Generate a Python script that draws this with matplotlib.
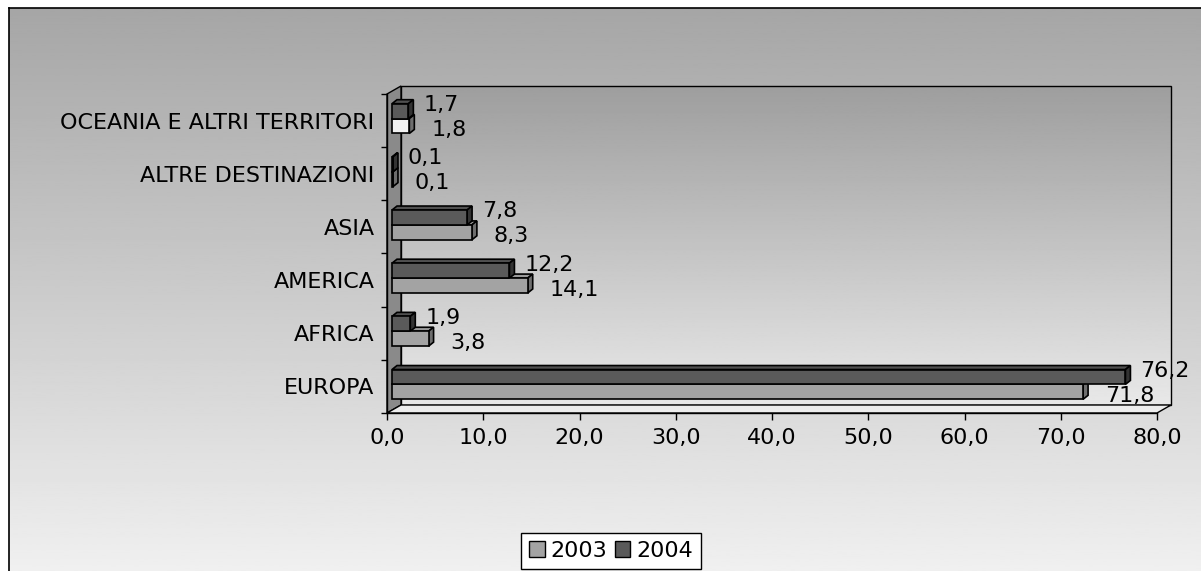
import numpy as np
import matplotlib
matplotlib.use('Agg')
import matplotlib.pyplot as plt
from matplotlib.patches import Polygon, Rectangle, Patch
from matplotlib.ticker import FuncFormatter, FixedLocator

categories = ['EUROPA', 'AFRICA', 'AMERICA', 'ASIA', 'ALTRE DESTINAZIONI',
              'OCEANIA E ALTRI TERRITORI']
val_2003 = [71.8, 3.8, 14.1, 8.3, 0.1, 1.8]
val_2004 = [76.2, 1.9, 12.2, 7.8, 0.1, 1.7]
series_names = ['2003', '2004']

W, H = 1201, 571
plt.rcParams['font.family'] = ['DejaVu Sans']
FS = 16

fig = plt.figure(figsize=(W / 100, H / 100), dpi=100, facecolor='white')

# background with gradient and border (left/top visible)
bg = fig.add_axes([9 / W, 0, (W - 9) / W, (H - 8) / H], zorder=0)
grad = np.linspace(0.65, 0.94, 256).reshape(-1, 1)
bg.imshow(grad, cmap='gray', vmin=0, vmax=1, aspect='auto',
          extent=[0, 1, 0, 1], origin='upper')
bg.set_xticks([])
bg.set_yticks([])
for s in ['right', 'bottom']:
    bg.spines[s].set_visible(False)
for s in ['left', 'top']:
    bg.spines[s].set_linewidth(1.2)

# main axes (front plane)
x0, x1 = 387, 1157
y_top, y_bot = 94, 413
ax = fig.add_axes([x0 / W, 1 - y_bot / H, (x1 - x0) / W, (y_bot - y_top) / H],
                  zorder=1)
ax.patch.set_alpha(0)
XMAX = 80
ax.set_xlim(0, XMAX)
ax.set_ylim(-0.5, len(categories) - 0.5)

xpp = XMAX / (x1 - x0)
ypp = len(categories) / (y_bot - y_top)

# 3D depth of walls
ddx, ddy = 14 * xpp, 8 * ypp
ylo, yhi = -0.5, len(categories) - 0.5

wall_grad = np.linspace(0.62, 0.91, 256).reshape(-1, 1)
ax.imshow(wall_grad, cmap='gray', vmin=0, vmax=1, aspect='auto',
          extent=[ddx, XMAX + ddx, ylo + ddy, yhi + ddy], origin='upper',
          clip_on=False, zorder=0)
ax.add_patch(Rectangle((ddx, ylo + ddy), XMAX, yhi - ylo, fill=False,
                       edgecolor='black', lw=1, clip_on=False, zorder=1))
ax.add_patch(Polygon([(0, ylo), (0, yhi), (ddx, yhi + ddy), (ddx, ylo + ddy)],
                     closed=True, facecolor='#8a8a8a', edgecolor='black',
                     lw=1, clip_on=False, zorder=1))
ax.add_patch(Polygon([(0, ylo), (XMAX, ylo), (XMAX + ddx, ylo + ddy),
                      (ddx, ylo + ddy)],
                     closed=True, facecolor='#ededed', edgecolor='black',
                     lw=1, clip_on=False, zorder=1))
ax.set_xlim(0, XMAX)
ax.set_ylim(ylo, yhi)

# bars
sx, sy = 5 * xpp, 2 * ypp      # bar plane shift
bdx, bdy = 5 * xpp, 4 * ypp    # bar depth
bh = 0.28

front_cols = {'2003': '#a3a3a3', '2004': '#5a5a5a'}
top_cols = {'2003': '#9a9a9a', '2004': '#505050'}
side_cols = {'2003': '#6e6e6e', '2004': '#333333'}
# single data-point override in the original (Oceania 2003 drawn light)
point_override = {('2003', 5): '#f2f2f2'}

ypos = np.arange(len(categories))
series = [('2003', val_2003, -bh / 2), ('2004', val_2004, bh / 2)]
for name, vals, off in series:
    fcs = [point_override.get((name, i), front_cols[name]) for i in range(len(vals))]
    yb = ypos + off + sy - bh / 2
    for i, v in enumerate(vals):
        xl, xr = sx, sx + v
        yt = yb[i] + bh
        ax.add_patch(Polygon([(xl, yt), (xr, yt), (xr + bdx, yt + bdy),
                              (xl + bdx, yt + bdy)], closed=True,
                             facecolor=top_cols[name] if (name, i) not in point_override else '#dcdcdc',
                             edgecolor='black', lw=1.2, zorder=3, clip_on=False))
        ax.add_patch(Polygon([(xr, yb[i]), (xr, yt), (xr + bdx, yt + bdy),
                              (xr + bdx, yb[i] + bdy)], closed=True,
                             facecolor=side_cols[name], edgecolor='black',
                             lw=1.2, zorder=3, clip_on=False))
    ax.barh(ypos + off + sy, vals, height=bh, left=sx, color=fcs,
            edgecolor='black', lw=1.2, zorder=4, clip_on=False)

# data labels
def fmt(v):
    return f'{v:.1f}'.replace('.', ',')

for name, vals, off in series:
    dxp, dyp = (22, -4) if name == '2003' else (15, 6)
    for i, v in enumerate(vals):
        ax.annotate(fmt(v), (v + sx, ypos[i] + off + sy),
                    xytext=(dxp, dyp), textcoords='offset pixels',
                    ha='left', va='center', fontsize=FS, zorder=6,
                    annotation_clip=False)

# axes styling
for s in ['top', 'right']:
    ax.spines[s].set_visible(False)
for s in ['left', 'bottom']:
    ax.spines[s].set_linewidth(1)
    ax.spines[s].set_zorder(5)

ax.set_xticks(np.arange(0, XMAX + 1, 10))
ax.xaxis.set_major_formatter(FuncFormatter(lambda v, p: fmt(v)))
ax.tick_params(axis='x', direction='out', length=5, width=1, labelsize=FS,
               pad=6)

ax.set_yticks(ypos)
ax.set_yticklabels(categories)
ax.yaxis.set_minor_locator(FixedLocator(np.arange(-0.5, len(categories), 1)))
ax.tick_params(axis='y', which='major', length=0, labelsize=FS, pad=9)
ax.tick_params(axis='y', which='minor', direction='out', length=4, width=1)

# legend
handles = [Patch(facecolor=front_cols[n], edgecolor='black', lw=1)
           for n in series_names]
leg = fig.legend(handles, series_names, loc='upper center',
                 bbox_to_anchor=(611 / W, 1 - 533 / H), ncol=2,
                 fontsize=FS, frameon=True, fancybox=False, framealpha=1,
                 facecolor='white', edgecolor='black', handlelength=0.7,
                 handleheight=0.7, handletextpad=0.25, columnspacing=0.35,
                 borderpad=0.35, borderaxespad=0)
leg.get_frame().set_linewidth(1)

fig.savefig('out.png', dpi=100, facecolor='white')
